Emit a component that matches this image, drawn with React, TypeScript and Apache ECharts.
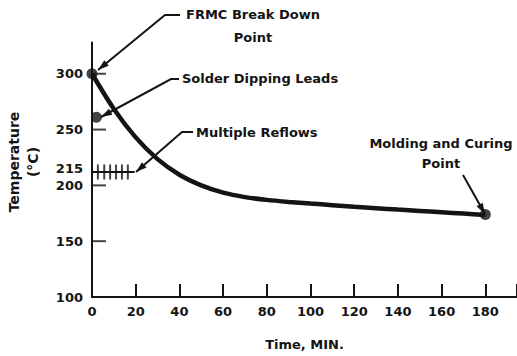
import React, { useEffect, useRef } from "react";
import * as echarts from "echarts";

// Curve: temperature (°C) vs time (min)
const times = [0, 10, 20, 30, 40, 50, 60, 70, 80, 90, 100, 110, 120, 130, 140, 150, 160, 170, 180];
const temps = [300, 268.5, 243, 223.5, 209.5, 200, 193.5, 189.5, 187, 185.2, 183.7, 182.3, 180.9, 179.6, 178.3, 177.1, 175.9, 174.7, 173.5];

// Key points (FRMC break down, solder dipping leads, molding & curing)
const pointNames = ["FRMC Break Down Point", "Solder Dipping Leads", "Molding and Curing Point"];
const pointTimes = [0, 2, 180];
const pointTemps = [300, 261, 174];

// Multiple reflows hatch
const reflowTemp = 212;
const reflowSpan = [0, 19.5];
const reflowTimes = [2.7, 5.6, 8.3, 11, 13.7, 16.4];

// Axis ticks / labels
const xTickLabels = [0, 20, 40, 60, 80, 100, 120, 140, 160, 180];
const yTickLabels = [100, 150, 200, 215, 250, 300];
const yTicks = [150, 200, 250, 300];

const INK = "#141414";
const FONT = '"DejaVu Sans", "Liberation Sans", sans-serif';

function arrowHead(x1: number, y1: number, x2: number, y2: number, len = 11, w = 3.5) {
  const dx = x2 - x1, dy = y2 - y1;
  const d = Math.hypot(dx, dy);
  const ux = dx / d, uy = dy / d;
  const bx = x2 - ux * len, by = y2 - uy * len;
  return {
    type: "polygon",
    shape: { points: [[x2, y2], [bx - uy * w, by + ux * w], [bx + uy * w, by - ux * w]] },
    style: { fill: INK },
    z: 100,
  };
}

function leader(points: number[][]) {
  const n = points.length;
  return [
    { type: "polyline", shape: { points }, style: { stroke: INK, lineWidth: 2, fill: null }, z: 100 },
    arrowHead(points[n - 2][0], points[n - 2][1], points[n - 1][0], points[n - 1][1]),
  ];
}

function label(text: string, x: number, y: number, align: string, lineHeight = 20) {
  return {
    type: "text",
    x,
    y,
    z: 100,
    style: {
      text,
      fill: INK,
      font: `bold 13px ${FONT}`,
      textAlign: align,
      textVerticalAlign: "middle",
      lineHeight,
    },
  };
}

export default function App() {
  const ref = useRef<HTMLDivElement>(null);
  useEffect(() => {
    if (!ref.current) return;
    const chart = echarts.init(ref.current, null, { renderer: "svg" });
    const curve = times.map((t, i) => [t, temps[i]]);
    const pts = pointTimes.map((t, i) => ({ name: pointNames[i], value: [t, pointTemps[i]] }));
    chart.setOption({
      animation: false,
      backgroundColor: "#ffffff",
      grid: { left: 92, right: -3, top: 42.5, bottom: 49, containLabel: false },
      xAxis: {
        type: "value",
        min: 0,
        max: 194.5,
        interval: 20,
        name: "Time, MIN.",
        nameLocation: "middle",
        nameGap: 41,
        nameTextStyle: { color: INK, fontFamily: FONT, fontWeight: "bold", fontSize: 13 },
        axisLine: { show: true, lineStyle: { color: INK, width: 2 } },
        axisTick: {
          show: true,
          inside: true,
          length: 13,
          lineStyle: { color: INK, width: 2 },
        },
        axisLabel: {
          customValues: xTickLabels,
          color: INK,
          fontFamily: FONT,
          fontWeight: "bold",
          fontSize: 13,
          margin: 8,
        },
        splitLine: { show: false },
      },
      yAxis: {
        type: "value",
        min: 100,
        max: 328,
        interval: 50,
        axisLine: { show: true, lineStyle: { color: INK, width: 2 } },
        axisTick: { show: false },
        axisLabel: {
          customValues: yTickLabels,
          color: INK,
          fontFamily: FONT,
          fontWeight: "bold",
          fontSize: 13,
          margin: 9,
        },
        splitLine: { show: false },
      },
      series: [
        {
          // y-axis tick marks (drawn inside, to the right of the axis)
          type: "scatter",
          data: yTicks.map((v) => [0, v]),
          symbol: "rect",
          symbolSize: [14, 2],
          symbolOffset: [7, 0],
          itemStyle: { color: INK },
          silent: true,
          z: 2,
        },
        {
          type: "line",
          data: curve,
          smooth: 0.3,
          showSymbol: false,
          lineStyle: { color: INK, width: 4.5 },
          z: 3,
        },
        {
          type: "line",
          data: reflowSpan.map((t) => [t, reflowTemp]),
          showSymbol: false,
          lineStyle: { color: INK, width: 2 },
          z: 3,
        },
        {
          type: "scatter",
          data: reflowTimes.map((t) => [t, reflowTemp]),
          symbol: "rect",
          symbolSize: [2, 15],
          itemStyle: { color: INK },
          z: 4,
        },
        {
          type: "scatter",
          data: pts,
          symbolSize: 11,
          itemStyle: { color: INK },
          z: 5,
        },
      ],
      graphic: [
        {
          type: "text",
          x: 23.5,
          y: 162,
          rotation: Math.PI / 2,
          style: {
            text: "Temperature\n(°C)",
            fill: INK,
            font: `bold 14px ${FONT}`,
            textAlign: "center",
            textVerticalAlign: "middle",
            lineHeight: 19,
          },
        },
        label("FRMC Break Down\nPoint", 253, 26, "center", 23),
        ...leader([[180, 15], [165, 15], [98, 70]]),
        label("Solder Dipping Leads", 182, 78, "left"),
        ...leader([[179, 79], [171, 79], [101, 117]]),
        label("Multiple Reflows", 196, 132, "left"),
        ...leader([[193, 132], [182, 132], [136, 172]]),
        label("Molding and Curing\nPoint", 441, 153, "center", 20),
        ...leader([[463, 175], [485, 214]]),
      ],
    });
    return () => chart.dispose();
  }, []);
  return (
    <div
      ref={ref}
      style={{ position: "fixed", left: 0, top: 0, width: 517, height: 356, background: "#fff" }}
    />
  );
}
